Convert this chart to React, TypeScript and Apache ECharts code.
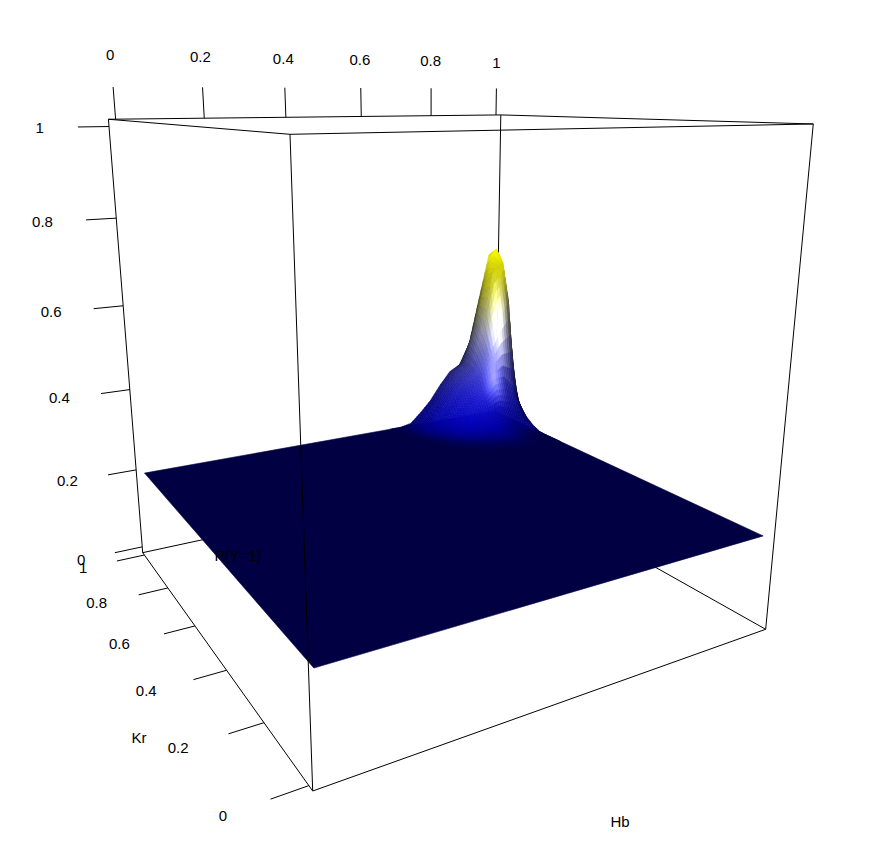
import React, { useEffect, useRef } from "react";
import * as echarts from "echarts";

const hbTicks = [0, 0.2, 0.4, 0.6, 0.8, 1];
const krTicks = [0, 0.2, 0.4, 0.6, 0.8, 1];
const pTicks = [0, 0.2, 0.4, 0.6, 0.8, 1];

const hbGrid = [0, 0.664, 0.695, 0.727, 0.758, 0.789, 0.82, 0.851, 0.881, 0.912, 0.943, 0.974, 1];
const krGrid = [0, 0.655, 0.686, 0.716, 0.747, 0.778, 0.809, 0.84, 0.871, 0.902, 0.933, 0.964, 1];
const pGrid = [
  [0.194, 0.194, 0.194, 0.194, 0.194, 0.194, 0.194, 0.194, 0.194, 0.194, 0.194, 0.194, 0.194],
  [0.194, 0.194, 0.194, 0.194, 0.194, 0.194, 0.194, 0.194, 0.194, 0.194, 0.194, 0.194, 0.194],
  [0.194, 0.194, 0.194, 0.194, 0.194, 0.194, 0.194, 0.194, 0.194, 0.194, 0.194, 0.194, 0.194],
  [0.194, 0.194, 0.194, 0.194, 0.194, 0.194, 0.194, 0.194, 0.194, 0.194, 0.194, 0.194, 0.194],
  [0.194, 0.194, 0.194, 0.194, 0.194, 0.194, 0.195, 0.196, 0.197, 0.198, 0.196, 0.195, 0.194],
  [0.194, 0.194, 0.194, 0.194, 0.194, 0.196, 0.199, 0.201, 0.205, 0.206, 0.201, 0.197, 0.195],
  [0.194, 0.194, 0.194, 0.194, 0.195, 0.199, 0.207, 0.216, 0.222, 0.227, 0.216, 0.206, 0.204],
  [0.194, 0.194, 0.194, 0.194, 0.198, 0.208, 0.225, 0.242, 0.255, 0.263, 0.253, 0.237, 0.219],
  [0.194, 0.194, 0.194, 0.195, 0.205, 0.224, 0.25, 0.275, 0.294, 0.33, 0.335, 0.304, 0.242],
  [0.194, 0.194, 0.194, 0.197, 0.213, 0.242, 0.274, 0.31, 0.343, 0.407, 0.479, 0.536, 0.263],
  [0.194, 0.194, 0.194, 0.2, 0.222, 0.255, 0.29, 0.325, 0.358, 0.448, 0.603, 0.634, 0.454],
  [0.194, 0.194, 0.194, 0.203, 0.228, 0.263, 0.303, 0.336, 0.364, 0.469, 0.583, 0.665, 0.603],
  [0.194, 0.194, 0.194, 0.2, 0.226, 0.256, 0.296, 0.33, 0.345, 0.397, 0.521, 0.644, 0.613],
];

// camera: homogeneous projection of the unit box
const CAM = [
  [684.9, -95.7, -69.65, 312.7],
  [28.9, 49.5, -678.44, 791],
  [0.3029, 0.5208, -0.1619, 1],
];
type V3 = [number, number, number];
const proj = (p: V3) => {
  const h = CAM[2][0] * p[0] + CAM[2][1] * p[1] + CAM[2][2] * p[2] + CAM[2][3];
  return [
    (CAM[0][0] * p[0] + CAM[0][1] * p[1] + CAM[0][2] * p[2] + CAM[0][3]) / h,
    (CAM[1][0] * p[0] + CAM[1][1] * p[1] + CAM[1][2] * p[2] + CAM[1][3]) / h,
    h,
  ];
};
const b = (v: number) => 0.015 + 0.97 * v;

const norm = (v: V3): V3 => {
  const l = Math.hypot(v[0], v[1], v[2]);
  return [v[0] / l, v[1] / l, v[2] / l];
};
const dot = (a: V3, c: V3) => a[0] * c[0] + a[1] * c[1] + a[2] * c[2];
const LIGHT = norm([-0.55, -0.75, 0.3]);
const SPEC_DIR = norm([-0.36, -0.88, 0.3]);

const pMin = 0.194;
const pMax = 0.665;
function ramp(t: number): V3 {
  if (t < 0.6) {
    const w = Math.pow(t / 0.6, 1.8);
    return [w, w, 1];
  }
  const y = Math.min(1, (t - 0.6) / 0.25);
  return [1, 1, 1 - y];
}
function vertexColor(i: number, j: number): V3 {
  const i0 = Math.max(0, i - 1), i1 = Math.min(hbGrid.length - 1, i + 1);
  const j0 = Math.max(0, j - 1), j1 = Math.min(krGrid.length - 1, j + 1);
  const dzx = (pGrid[j][i1] - pGrid[j][i0]) / (hbGrid[i1] - hbGrid[i0]);
  const dzy = (pGrid[j1][i] - pGrid[j0][i]) / (krGrid[j1] - krGrid[j0]);
  const n = norm([-dzx, -dzy, 1]);
  const diff = Math.max(0, dot(n, LIGHT));
  const spec = Math.pow(Math.max(0, dot(n, SPEC_DIR)), 80);
  const t = Math.max(0, Math.min(1, (pGrid[j][i] - pMin) / (pMax - pMin)));
  const base = ramp(t);
  let k = 0.85 * diff;
  if (t > 0.75) k = Math.max(k, 0.55 + (t - 0.75) * 1.8);
  const s = t > 0.8 ? 0 : spec;
  return [base[0] * k + s, base[1] * k + s, base[2] * k + s];
}

type Quad = { pts: number[][]; color: string; depth: number };
const toRgb = (c: V3) =>
  `rgb(${c.map((v) => Math.round(Math.max(0, Math.min(1, v)) * 255)).join(",")})`;
function buildQuads(): Quad[] {
  const out: Quad[] = [];
  for (let j = 0; j < krGrid.length - 1; j++) {
    for (let i = 0; i < hbGrid.length - 1; i++) {
      const zs = [pGrid[j][i], pGrid[j][i + 1], pGrid[j + 1][i + 1], pGrid[j + 1][i]];
      const cs = [vertexColor(i, j), vertexColor(i + 1, j), vertexColor(i + 1, j + 1), vertexColor(i, j + 1)];
      const same = cs.every((c) => Math.abs(c[2] - cs[0][2]) < 1e-6 && Math.abs(c[0] - cs[0][0]) < 1e-6);
      const flat = same && zs.every((z) => z === zs[0]);
      if (flat) continue; // covered by the base plane
      const S = 5;
      const at = (u: number, v: number) => {
        const w = [(1 - u) * (1 - v), u * (1 - v), u * v, (1 - u) * v];
        const hb = hbGrid[i] + u * (hbGrid[i + 1] - hbGrid[i]);
        const kr = krGrid[j] + v * (krGrid[j + 1] - krGrid[j]);
        const p = w[0] * zs[0] + w[1] * zs[1] + w[2] * zs[2] + w[3] * zs[3];
        const col: V3 = [0, 1, 2].map((k) => w[0] * cs[0][k] + w[1] * cs[1][k] + w[2] * cs[2][k] + w[3] * cs[3][k]) as V3;
        return { pos: [b(hb), b(kr), b(p)] as V3, col };
      };
      for (let a = 0; a < S; a++) {
        for (let c = 0; c < S; c++) {
          const corners = [at(a / S, c / S), at((a + 1) / S, c / S), at((a + 1) / S, (c + 1) / S), at(a / S, (c + 1) / S)];
          const mid = at((a + 0.5) / S, (c + 0.5) / S);
          out.push({ pts: corners.map((k) => proj(k.pos)), color: toRgb(mid.col), depth: proj(mid.pos)[2] });
        }
      }
    }
  }
  out.sort((x, y) => y.depth - x.depth);
  // base plane, drawn first, spanning the whole grid at its lowest value
  const last = (a: number[]) => a[a.length - 1];
  const z = b(pMin);
  const planeColor = vertexColor(0, 0);
  const plane: Quad = {
    pts: [
      proj([b(hbGrid[0]), b(krGrid[0]), z]),
      proj([b(last(hbGrid)), b(krGrid[0]), z]),
      proj([b(last(hbGrid)), b(last(krGrid)), z]),
      proj([b(hbGrid[0]), b(last(krGrid)), z]),
    ],
    color: toRgb(planeColor),
    depth: 99,
  };
  return [plane, ...out];
}

type Seg = [V3, V3];
const backEdges: Seg[] = [
  [[0, 1, 0], [1, 1, 0]],
  [[1, 0, 0], [1, 1, 0]],
  [[0, 1, 0], [0, 1, 1]],
  [[1, 1, 0], [1, 1, 1]],
  [[1, 0, 0], [1, 0, 1]],
  [[0, 1, 1], [1, 1, 1]],
  [[1, 1, 1], [1, 0, 1]],
];
const frontEdges: Seg[] = [
  [[0, 0, 0], [0, 0, 1]],
  [[0, 0, 1], [0, 1, 1]],
  [[0, 0, 1], [1, 0, 1]],
  [[0, 0, 0], [0, 1, 0]],
  [[0, 0, 0], [1, 0, 0]],
];
const FONT = '"Liberation Sans", Arial, Helvetica, sans-serif';
const FONT_SIZE = 15;

export default function App() {
  const ref = useRef<HTMLDivElement>(null);
  useEffect(() => {
    document.body.style.margin = "0";
    const chart = echarts.init(ref.current!, undefined, { renderer: "svg" });
    const quads = buildQuads();
    const tickSegs: Seg[] = [
      ...hbTicks.map((t) => [[b(t), 1, 1], [b(t), 1, 1.066]] as Seg),
      ...pTicks.map((t) => [[0, 1, b(t)], [-0.064, 1, b(t)]] as Seg),
      ...krTicks.map((t) => [[0, b(t), 0], [-0.064, b(t), 0]] as Seg),
    ];
    const labels: { text: string; pos: V3; right: boolean }[] = [
      ...hbTicks.map((t) => ({ text: String(t), pos: [b(t), 1, 1.13] as V3, right: false })),
      ...pTicks.map((t) => ({ text: String(t), pos: [-0.14, 1, b(t)] as V3, right: true })),
      ...krTicks.map((t) => ({ text: String(t), pos: [-0.14, b(t), 0] as V3, right: true })),
    ];
    const lineSeries = (segs: Seg[], z: number) => ({
      type: "custom",
      coordinateSystem: "cartesian2d",
      silent: true,
      z,
      progressive: 0,
      clip: false,
      data: segs.map((_, i) => [i, i]),
      renderItem: (params: any, api: any) => {
        const s = segs[params.dataIndex];
        const p0 = proj(s[0]);
        const p1 = proj(s[1]);
        const a = api.coord([p0[0], p0[1]]);
        const c = api.coord([p1[0], p1[1]]);
        return {
          type: "line",
          shape: { x1: a[0], y1: a[1], x2: c[0], y2: c[1] },
          style: { stroke: "#000", lineWidth: 1, fill: "none" },
        };
      },
    });
    chart.setOption({
      animation: false,
      backgroundColor: "#fff",
      grid: { left: 0, right: 0, top: 0, bottom: 0 },
      xAxis: { type: "value", min: 0, max: 874, show: false },
      yAxis: { type: "value", min: 0, max: 863, inverse: true, show: false },
      series: [
        lineSeries([...backEdges, ...tickSegs], 1),
        {
          type: "custom",
          coordinateSystem: "cartesian2d",
          silent: true,
          z: 2,
          progressive: 0,
          clip: false,
          data: quads.map((_, i) => [i, i]),
          renderItem: (params: any, api: any) => {
            const q = quads[params.dataIndex];
            return {
              type: "polygon",
              shape: { points: q.pts.map((p) => api.coord([p[0], p[1]])) },
              style: { fill: q.color, stroke: q.color, lineWidth: 0.6 },
            };
          },
        },
        lineSeries(frontEdges, 3),
        {
          type: "custom",
          coordinateSystem: "cartesian2d",
          silent: true,
          z: 4,
          progressive: 0,
          clip: false,
          data: labels.map((_, i) => [i, i]),
          renderItem: (params: any, api: any) => {
            const l = labels[params.dataIndex];
            const p = proj(l.pos);
            const a = api.coord([p[0], p[1]]);
            return {
              type: "text",
              x: l.right ? a[0] + 4 : a[0] - 0.5,
              y: a[1] - 0.5,
              style: {
                text: l.text,
                fill: "#000",
                fontSize: FONT_SIZE,
                fontFamily: FONT,
                align: l.right ? "right" : "center",
                verticalAlign: "middle",
              },
            };
          },
        },
      ],
      graphic: [
        { type: "text", x: 620, y: 821, z: 10, style: { text: "Hb", fill: "#000", fontSize: FONT_SIZE, fontFamily: FONT, align: "center", verticalAlign: "middle" } },
        { type: "text", x: 139, y: 737, z: 10, style: { text: "Kr", fill: "#000", fontSize: FONT_SIZE, fontFamily: FONT, align: "center", verticalAlign: "middle" } },
        { type: "text", x: 238, y: 555, z: 10, style: { text: "P(Y=1)", fill: "#000", fontSize: FONT_SIZE, fontFamily: FONT, align: "center", verticalAlign: "middle" } },
      ],
    });
    return () => chart.dispose();
  }, []);
  return <div ref={ref} style={{ width: 874, height: 863 }} />;
}
